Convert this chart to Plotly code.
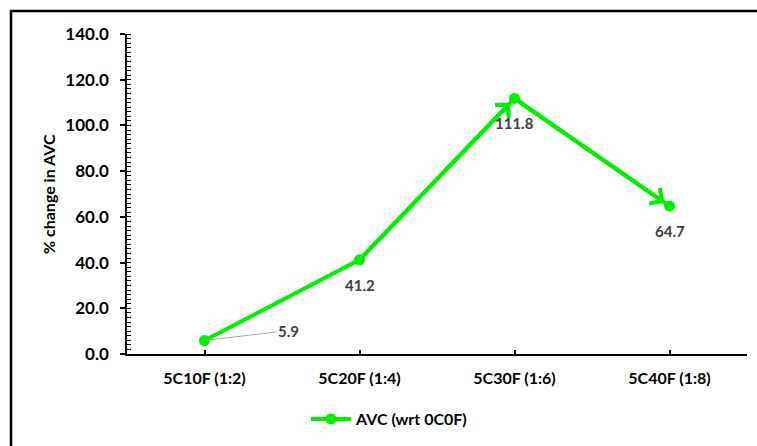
import plotly.graph_objects as go

# Data
categories = ["5C10F (1:2)", "5C20F (1:4)", "5C30F (1:6)", "5C40F (1:8)"]
avc_change = [5.9, 41.2, 111.8, 64.7]
series_name = "AVC (wrt 0C0F)"
y_title = "% change in AVC"
y_ticks = [0, 20, 40, 60, 80, 100, 120, 140]

GREEN = "#00F000"
FONT = "Lato"

W, H = 757, 446
ML, MR, MT, MB = 127, 10, 34, 92
PW, PH = W - ML - MR, H - MT - MB

fig = go.Figure()
fig.add_trace(go.Scatter(
    x=list(range(len(categories))), y=avc_change, name=series_name,
    mode="lines+markers",
    line=dict(color=GREEN, width=4),
    marker=dict(color=GREEN, size=11),
))

annotations = []
# arrow heads on the rising and falling segments
for i in (2, 3):
    annotations.append(dict(
        x=i, y=avc_change[i], ax=i - 1, ay=avc_change[i - 1],
        xref="x", yref="y", axref="x", ayref="y",
        text="", showarrow=True, arrowhead=4, arrowsize=0.9,
        arrowwidth=4, arrowcolor=GREEN, standoff=6,
    ))

# data labels
label_font = dict(family=FONT, size=15, color="#404040")
for i, v in enumerate(avc_change):
    if i == 0:
        annotations.append(dict(
            x=i, y=v, xref="x", yref="y", text=f"<b>{v:.1f}</b>",
            showarrow=True, arrowhead=0, arrowwidth=1, arrowcolor="#A6A6A6",
            ax=84, ay=-10, standoff=2, font=label_font,
        ))
    else:
        annotations.append(dict(
            x=i, y=v, xref="x", yref="y", text=f"<b>{v:.1f}</b>",
            showarrow=False, yshift=-25, font=label_font,
        ))

# y-axis title
annotations.append(dict(
    x=(48 - ML) / PW, y=0.5, xref="paper", yref="paper",
    xanchor="center", yanchor="middle",
    text=f"<b>{y_title}</b>", textangle=-90, showarrow=False,
    font=dict(family=FONT, size=16, color="black"),
))

fig.update_layout(
    width=W, height=H,
    margin=dict(l=ML, r=MR, t=MT, b=MB),
    paper_bgcolor="white", plot_bgcolor="white",
    font=dict(family=FONT, color="black"),
    annotations=annotations,
    showlegend=True,
    legend=dict(
        x=(306 - ML) / PW, y=(MT + PH - 419) / PH, xanchor="left", yanchor="middle",
        orientation="h", font=dict(family=FONT, size=16, color="black", weight="bold"),
        itemwidth=40,
    ),
    shapes=[dict(
        type="rect", xref="paper", yref="paper",
        x0=(11 - ML) / PW, x1=(775 - ML) / PW,
        y0=(MT + PH - 470) / PH, y1=(MT + PH - 11) / PH,
        line=dict(color="black", width=2.5), fillcolor="rgba(0,0,0,0)", layer="below",
    )],
)

fig.update_xaxes(
    range=[-0.5, 3.5], tickmode="array",
    tickvals=list(range(len(categories))), ticktext=categories,
    showgrid=False, zeroline=False,
    showline=True, linecolor="black", linewidth=1.5,
    ticks="inside", ticklen=4, tickcolor="black", tickwidth=1.5,
    tickfont=dict(family=FONT, size=16, color="black", weight="bold"),
    ticklabelstandoff=9,
)
fig.update_yaxes(
    range=[0, 140], tickmode="array", tickvals=y_ticks,
    ticktext=[f"{t:.1f}" for t in y_ticks],
    showgrid=False, zeroline=False,
    showline=True, linecolor="black", linewidth=1.5,
    ticks="outside", ticklen=5, tickcolor="black", tickwidth=1.5,
    tickfont=dict(family=FONT, size=17, color="black", weight="bold"),
    ticklabelstandoff=8,
    minor=dict(dtick=2, ticks="inside", ticklen=4, tickcolor="black", tickwidth=1),
)

fig.write_html("out.html")
